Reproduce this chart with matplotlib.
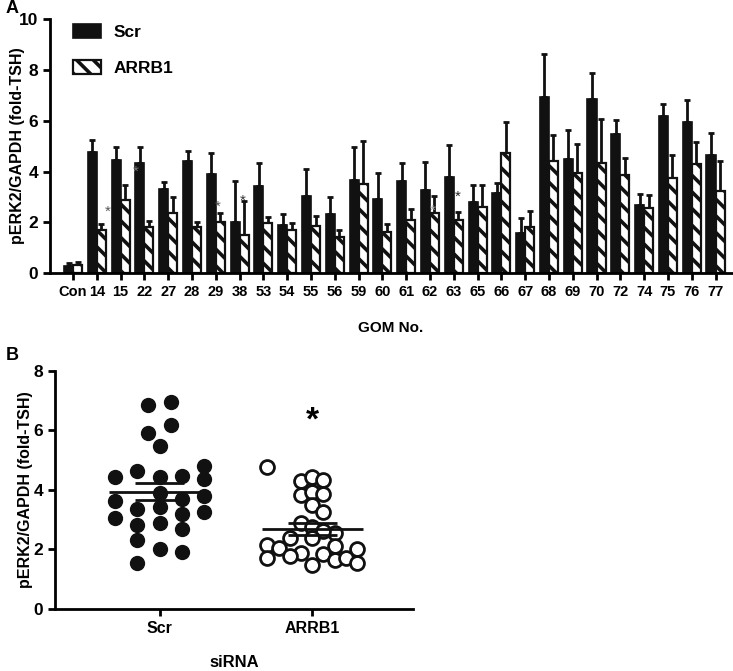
import numpy as np
import matplotlib
matplotlib.use("Agg")
import matplotlib.pyplot as plt

plt.rcParams['font.family'] = ['Liberation Sans', 'DejaVu Sans']
plt.rcParams['font.weight'] = 'bold'
plt.rcParams['axes.labelweight'] = 'bold'
plt.rcParams['hatch.linewidth'] = 2.6

# Panel A data
gom_labels = ["Con", "14", "15", "22", "27", "28", "29", "38", "53", "54", "55", "56", "59", "60",
              "61", "62", "63", "65", "66", "67", "68", "69", "70", "72", "74", "75", "76", "77"]
scr_mean = [0.27, 4.78, 4.46, 4.35, 3.33, 4.42, 3.89, 2.03, 3.43, 1.91, 3.04, 2.32, 3.67, 2.9,
            3.62, 3.27, 3.78, 2.81, 3.16, 1.56, 6.94, 4.49, 6.85, 5.46, 2.7, 6.19, 5.94, 4.65]
scr_top = [0.38, 5.24, 4.98, 4.98, 3.58, 4.81, 4.74, 3.63, 4.32, 2.32, 4.09, 2.98, 4.98, 3.95,
           4.33, 4.37, 5.05, 3.48, 3.54, 2.15, 8.62, 5.64, 7.87, 6.02, 3.11, 6.67, 6.82, 5.52]
arrb_mean = [0.3, 1.68, 2.88, 1.8, 2.36, 1.8, 2.0, 1.51, 1.97, 1.7, 1.87, 1.44, 3.5, 1.63,
             2.1, 2.35, 2.09, 2.62, 4.74, 1.81, 4.42, 3.96, 4.32, 3.85, 2.55, 3.75, 4.29, 3.22]
arrb_top = [0.42, 1.94, 3.47, 2.07, 2.99, 2.03, 2.36, 2.84, 2.21, 1.97, 2.25, 1.68, 5.2, 1.93,
            2.52, 3.02, 2.4, 3.45, 5.94, 2.44, 5.42, 5.08, 6.05, 4.55, 3.08, 4.66, 5.18, 4.41]
# significance marks: (category position, height, colour)
stars_a = [(1.47, 2.4, "#555555"), (2.65, 4.0, "#777777"), (6.07, 2.6, "#555555"),
           (7.14, 2.85, "#333333"), (15.1, 2.45, "#aaaaaa"), (16.18, 3.0, "#222222")]

# Panel B data: individual points (value, column slot in the swarm, half-marker steps)
scr_pts = [6.87, 6.94, 6.19, 5.93, 5.46, 4.65, 4.42, 4.42, 4.48, 4.81, 4.36, 3.89, 3.61, 3.78,
           3.69, 3.35, 3.42, 3.25, 3.04, 3.18, 2.82, 2.9, 2.69, 2.31, 2.02, 1.92, 1.55]
scr_slot = [-1, 1, 1, -1, 0, -2, -4, 0, 2, 4, 4, 0, -4, 4, 2, -2, 0, 4, -4, 2, -2, 0, 2, -2, 0, 2, -2]
arrb_pts = [4.76, 4.30, 4.43, 4.34, 3.83, 3.94, 3.87, 3.49, 3.24, 2.88, 2.76, 2.54, 2.6, 2.37,
            2.37, 2.15, 2.03, 2.12, 2.0, 1.87, 1.84, 1.78, 1.7, 1.64, 1.7, 1.47, 1.53]
arrb_slot = [-4, -1, 0, 1, -1, 0, 1, 0, 1, -1, 0, 2, 1, -2, 0, -4, -3, 2, 4, -1, 1, -2, -4, 2, 3, 0, 4]
scr_sem = (3.94, 0.28)
arrb_sem = (2.69, 0.21)

fig = plt.figure(figsize=(7.33, 6.71), dpi=100)

# ---- Panel A ----
ax = fig.add_axes([0.0682, 0.593, 0.930, 0.3785])
x = np.arange(len(gom_labels))
w = 0.38
ax.bar(x - w / 2, scr_mean, w, color="#111111", edgecolor="#111111", linewidth=1.2, label="Scr", zorder=2)
ax.bar(x + w / 2, arrb_mean, w, color="white", edgecolor="#111111", linewidth=1.6,
       hatch="\\\\", label="ARRB1", zorder=2)
scr_err = np.array(scr_top) - np.array(scr_mean)
arrb_err = np.array(arrb_top) - np.array(arrb_mean)
ax.errorbar(x - w / 2, scr_mean, yerr=[np.zeros_like(scr_err), scr_err], fmt="none",
            ecolor="#111111", elinewidth=2, capsize=2.5, capthick=2, zorder=1)
ax.errorbar(x + w / 2, arrb_mean, yerr=[np.zeros_like(arrb_err), arrb_err], fmt="none",
            ecolor="#111111", elinewidth=2, capsize=2.5, capthick=2, zorder=1)
for sx, sy, sc in stars_a:
    ax.text(sx, sy, "*", ha="center", va="center", fontsize=11, color=sc, fontweight="normal")

ax.set_xlim(-0.97, 27.68)
ax.set_ylim(0, 10)
ax.set_yticks([0, 2, 4, 6, 8, 10])
ax.set_xticks(x)
ax.set_xticklabels(gom_labels, fontsize=10.5)
ax.tick_params(axis="y", labelsize=12.5, width=2, length=5)
ax.tick_params(axis="x", width=2, length=5)
for s in ["top", "right"]:
    ax.spines[s].set_visible(False)
for s in ["left", "bottom"]:
    ax.spines[s].set_linewidth(2)
ax.set_ylabel("pERK2/GAPDH (fold-TSH)", fontsize=11.5)
ax.yaxis.set_label_coords(-0.037, 0.5)
ax.set_xlabel("GOM No.", fontsize=11, labelpad=16)
ax.legend(loc="upper left", bbox_to_anchor=(0.024, 1.01), borderaxespad=0, frameon=False,
          fontsize=12.5, handlelength=1.6, handleheight=0.9, labelspacing=1.15, handletextpad=0.7)
fig.text(0.008, 0.987, "A", fontsize=13, fontweight="bold", va="center")

# ---- Panel B ----
bx = fig.add_axes([0.075, 0.0928, 0.4884, 0.3543])
half = 0.0735
bx.plot(1 + np.array(scr_slot) * half, scr_pts, "o", ms=10, color="#111111", mec="#111111", zorder=3)
bx.plot(2 + np.array(arrb_slot) * half, arrb_pts, "o", ms=10, mfc="white",
        mec="#111111", mew=2, zorder=3)
for cx, (m, e) in [(1, scr_sem), (2, arrb_sem)]:
    bx.hlines(m, cx - 0.33, cx + 0.33, color="#111111", lw=2, zorder=4)
    bx.hlines([m - e, m + e], cx - 0.16, cx + 0.16, color="#111111", lw=2, zorder=4)
bx.text(2, 6.3, "*", ha="center", va="center", fontsize=24, fontweight="bold")
bx.set_xlim(0.315, 2.66)
bx.set_ylim(0, 8)
bx.set_yticks([0, 2, 4, 6, 8])
bx.set_xticks([1, 2])
bx.set_xticklabels(["Scr", "ARRB1"], fontsize=11.5)
bx.tick_params(axis="y", labelsize=12.5, width=2, length=5)
bx.tick_params(axis="x", width=2, length=5)
for s in ["top", "right"]:
    bx.spines[s].set_visible(False)
for s in ["left", "bottom"]:
    bx.spines[s].set_linewidth(2)
bx.set_ylabel("pERK2/GAPDH (fold-TSH)", fontsize=11.5)
bx.yaxis.set_label_coords(-0.06, 0.5)
bx.set_xlabel("siRNA", fontsize=12, labelpad=14)
fig.text(0.008, 0.47, "B", fontsize=13, fontweight="bold", va="center")

fig.savefig("out.png", dpi=100)
